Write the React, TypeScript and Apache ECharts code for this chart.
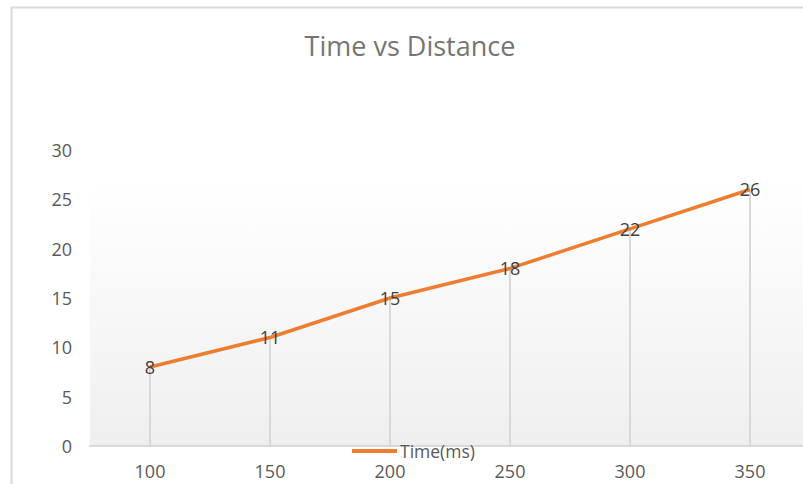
import React, { useEffect, useRef } from "react";
import * as echarts from "echarts";

const categories = ["100", "150", "200", "250", "300", "350"];
const timeValues = [8, 11, 15, 18, 22, 26];
const seriesName = "Time(ms)";
const titleText = "Time vs Distance";

export default function App() {
  const ref = useRef<HTMLDivElement>(null);
  useEffect(() => {
    if (!ref.current) return;
    const chart = echarts.init(ref.current, null, { renderer: "svg" });
    const font = "'Open Sans', 'Noto Sans', sans-serif";
    chart.setOption({
      animation: false,
      backgroundColor: "#ffffff",
      textStyle: { fontFamily: font },
      graphic: [
        {
          type: "rect",
          z: -10,
          silent: true,
          shape: { x: 90, y: 183, width: 720, height: 263 },
          style: {
            fill: new echarts.graphic.LinearGradient(0, 0, 0, 1, [
              { offset: 0, color: "#ffffff" },
              { offset: 1, color: "#efefef" },
            ]),
          },
        },
        {
          type: "line",
          silent: true,
          shape: { x1: 11.5, y1: 7, x2: 11.5, y2: 484 },
          style: { stroke: "#d9d9d9", lineWidth: 2 },
        },
        {
          type: "line",
          silent: true,
          shape: { x1: 11, y1: 7.5, x2: 803, y2: 7.5 },
          style: { stroke: "#d9d9d9", lineWidth: 2 },
        },
        {
          type: "text",
          x: 410,
          y: 45,
          style: {
            text: titleText,
            fill: "#757575",
            font: `27px ${font}`,
            textAlign: "center",
            textVerticalAlign: "middle",
          },
        },
      ],
      legend: {
        data: [{ name: seriesName, icon: "rect" }],
        left: 352,
        top: 442,
        itemWidth: 45,
        itemHeight: 4,
        itemGap: 0,
        padding: 0,
        textStyle: { color: "#595959", fontSize: 17.5, fontFamily: font, padding: [0, 0, 0, -2] },
      },
      grid: { left: 90, top: 150, width: 720, height: 296, containLabel: false, outerBoundsMode: "none" },
      xAxis: {
        type: "category",
        data: categories,
        boundaryGap: true,
        axisLine: { show: true, lineStyle: { color: "#d9d9d9", width: 2 } },
        axisTick: { show: false },
        axisLabel: { color: "#595959", fontSize: 18, margin: 16, fontFamily: font },
        splitLine: { show: false },
      },
      yAxis: {
        type: "value",
        min: 0,
        max: 30,
        interval: 5,
        axisLine: { show: false },
        axisTick: { show: false },
        splitLine: { show: false },
        axisLabel: { color: "#595959", fontSize: 18, margin: 18, fontFamily: font },
      },
      series: [
        {
          name: "drop",
          type: "bar",
          data: timeValues,
          barWidth: 2,
          itemStyle: { color: "#d9d9d9" },
          z: 1,
          silent: true,
        },
        {
          name: seriesName,
          type: "line",
          data: timeValues,
          symbol: "circle",
          symbolSize: 0,
          showSymbol: true,
          lineStyle: { color: "#ED7D31", width: 3.5 },
          itemStyle: { color: "#ED7D31" },
          z: 3,
          label: {
            show: true,
            position: "inside",
            color: "#404040",
            fontSize: 18,
            fontFamily: font,
          },
        },
      ],
    });
    return () => chart.dispose();
  }, []);
  return (
    <div
      ref={ref}
      style={{ position: "fixed", left: 0, top: 0, width: 803, height: 484 }}
    />
  );
}
